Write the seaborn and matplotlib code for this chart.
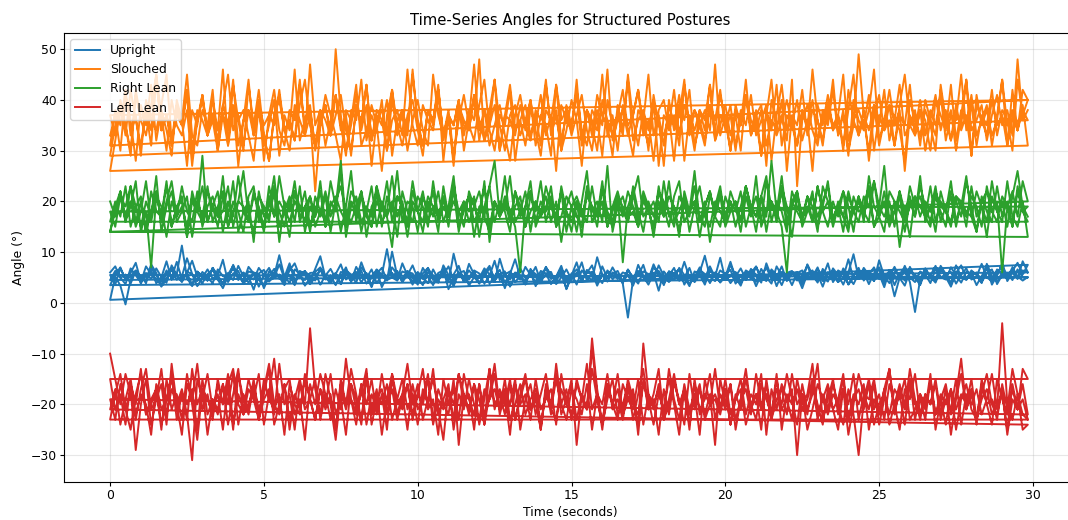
import numpy as np
import pandas as pd
import matplotlib
matplotlib.use("Agg")
import matplotlib.pyplot as plt
import seaborn as sns

postures = ["Upright", "Slouched", "Right Lean", "Left Lean"]
colors = ["#1f77b4", "#ff7f0e", "#2ca02c", "#d62728"]
sample_rate = 6  # samples per second

upright_t1 = [6.0, 7.2, 4.9, 5.6, 3.8, 6.3, 5.1, 4.4, 7.6, 5.9, 3.2, 4.8, 6.7, 5.5, 4.1, 6.0, 8.3, 5.2, 3.9, 5.7,
              6.5, 4.6, 2.9, 5.3, 6.8, 5.0, 4.2, 7.1, 5.8, 4.5, 3.6, 6.2, 5.4, 9.4, 5.1, 4.0, 6.6, 5.7, 3.4, 4.9,
              6.1, 7.0, 5.2, 4.3, 5.9, 3.7, 6.4, 5.6, 4.7, 8.0, 5.3, 3.1, 5.8, 6.9, 4.5, 5.0, 6.3, 4.1, 5.5, 7.4,
              4.8, 3.5, 6.0, 5.4, 4.6, 6.7, 2.7, 5.1, 5.9, 4.3, 7.7, 5.6, 4.9, 6.2, 3.8, 5.3, 6.5, 4.0, 5.7, 8.6,
              5.0, 4.4, 6.1, 3.3, 5.5, 6.8, 4.7, 5.2, 7.3, 4.1, 5.8, 3.6, 6.4, 5.1, 4.5, 9.0, 5.6, 4.2, 6.0, 5.3,
              3.9, 6.6, 4.8, 5.4, 7.5, 4.3, 5.9, 2.4, 6.2, 5.0, 4.6, 6.9, 5.5, 3.7, 5.1, 7.0, 4.4, 6.3, 5.7, 4.0,
              5.2, 8.1, 4.9, 3.4, 6.1, 5.6, 4.2, 6.7, 5.0, 3.8, 7.2, 5.4, 4.7, 6.0, 5.3, 2.9, 5.8, 6.4, 4.5, 5.1,
              7.8, 4.1, 5.7, 6.2, 3.6, 5.0, 4.8, 6.9, 5.5, 4.3, 8.4, 5.2, 3.9, 6.1, 5.6, 4.4, 7.1, 5.0, 3.5, 6.3,
              5.4, 4.6, 6.8, 5.1, 3.2, 5.9, 7.4, 4.7, 5.3, 6.0, 4.1, 5.8, 6.6, 3.7, 5.5, 4.9, 7.0, 5.2, 4.4, 5.1]
upright_t2 = [5.5, 3.6, 6.8, 4.7, 5.9, 7.9, 4.2, 5.3, 6.4, 3.9, 5.0, 8.2, 4.6, 5.7, 11.3, 4.9, 3.3, 6.1, 5.4, 4.4,
              6.9, 5.1, 3.8, 5.6, 7.3, 4.5, 6.0, 5.2, 2.6, 5.8, 6.5, 4.3, 5.0, 7.6, 4.8, 5.5, 3.5, 6.3, 5.7, 4.1,
              6.7, 9.2, 5.0, 4.6, 5.9, 3.7, 6.2, 5.3, 4.0, 7.0, 5.6, 4.8, 6.4, 3.1, 5.2, 5.9, 4.5, 7.8, 5.4, 4.2,
              6.1, 5.0, 3.9, 6.6, 4.7, 5.5, 7.2, 4.4, 5.8, 6.3, 3.4, 5.1, 4.9, 6.8, 5.6, 4.1, 8.7, 5.3, 4.6, 6.0,
              5.2, 3.6, 6.4, 5.7, 4.3, 7.1, 5.0, 4.8, 6.2, 2.8, 5.5, 6.6, 4.5, 5.9, 7.4, 4.0, 5.3, 6.1, 4.7, 5.6,
              3.8, -2.9, 4.6, 6.3, 5.1, 4.4, 7.0, 5.8, 3.5, 6.2, 5.4, 4.9, 8.1, 5.0, 4.2, 6.5, 5.7, 3.9, 6.0, 5.2,
              4.6, 7.5, 5.3, 4.1, 6.4, 5.8, 3.3, 5.6, 6.9, 4.8, 5.1, 7.2, 4.3, 5.9, 6.1, 3.7, 5.4, 4.7, 6.6, 5.0,
              4.2, 6.8, 5.5, 3.6, 6.0, 9.6, 4.9, 5.2, 6.3, 4.4, 5.7, 3.1, 6.5, 5.3, 4.8, 7.3, 5.0, 4.1, 6.2, 5.6,
              3.9, 6.7, 5.1, 4.6, 7.0, 5.4, 4.0, 6.1, 5.8, 3.5, 5.3, 6.9, 4.7, 5.6, 7.6, 4.3, 5.9, 5.0, 6.4, 6.0]
upright_t3 = [4.5, 6.3, 5.0, 3.7, 6.8, 5.4, 4.1, 7.2, 5.6, 4.8, 3.4, 5.9, 6.5, 4.6, 5.2, 8.8, 5.7, 4.3, 6.1, 5.0,
              3.9, 6.6, 5.3, 4.7, 7.5, 5.1, 4.4, 6.2, 5.8, 3.2, 5.5, 6.9, 4.9, 5.6, 4.0, 6.4, 7.8, 5.2, 4.5, 5.9,
              6.0, 3.6, 5.4, 6.7, 4.8, 5.1, 7.0, 4.2, 5.7, 6.3, 3.8, 5.0, 6.6, 5.5, 4.4, 10.1, 5.3, 4.6, 6.1, 5.8,
              4.1, 6.9, 5.2, 3.5, 5.9, 6.4, 4.7, 5.6, 7.3, 4.3, 5.0, 6.2, 3.9, 5.4, 6.8, 4.9, 5.7, 2.9, 6.0, 5.3,
              4.6, 7.1, 5.5, 4.2, 6.3, 5.8, 3.7, 5.1, 6.7, 4.8, 5.4, 8.0, 4.5, 5.9, 6.1, 3.4, 5.6, 4.9, 7.0, 5.2,
              4.4, 6.5, 5.0, 3.8, 6.2, 5.7, 4.6, 7.4, 5.3, 4.1, 5.8, 6.6, 3.6, 5.5, 4.8, 6.0, 9.3, 5.1, 4.3, 6.4,
              5.6, 3.9, 5.2, 6.8, 4.7, 5.9, 7.2, 4.5, 5.0, 6.3, 3.3, 5.7, 4.9, 6.1, 5.4, 4.2, 7.6, 5.5, 4.0, 6.7,
              5.1, 4.6, 6.4, 5.8, 3.7, 5.3, 6.9, 4.4, 5.6, 7.0, 4.8, 5.2, 6.2, 3.5, 5.9, 6.5, 4.1, -1.8, 4.7, 6.0,
              5.4, 7.3, 4.9, 5.7, 6.1, 3.8, 5.5, 6.8, 4.6, 5.2, 7.7, 5.0, 4.3, 6.6, 5.8, 4.7, 6.3, 7.9, 5.6, 7.5]
upright_t4 = [0.6, 5.2, 3.4, -0.3, 4.6, 6.1, 5.3, 3.9, 7.0, 5.5, 4.2, 6.4, 5.0, 8.1, 4.7, 5.8, 3.6, 6.2, 5.1, 4.4,
              6.9, 5.4, 3.8, 5.9, 4.5, 7.3, 5.2, 4.0, 6.0, 5.6, 2.9, 5.3, 6.7, 4.8, 5.1, 7.8, 4.3, 5.7, 6.3, 3.7,
              5.0, 6.5, 4.6, 5.4, 3.5, 6.1, 5.8, 4.2, 7.1, 5.3, 4.9, 6.6, 3.9, 5.5, 10.6, 5.0, 4.4, 6.2, 5.7, 3.6,
              5.9, 4.7, 6.8, 5.2, 4.0, 7.4, 5.5, 3.3, 6.0, 5.1, 4.6, 6.4, 5.8, 3.8, 5.3, 8.3, 4.5, 5.6, 6.2, 4.1,
              5.4, 3.7, 6.7, 5.0, 4.8, 7.0, 5.6, 4.3, 6.1, 2.7, 5.2, 5.9, 4.4, 6.5, 5.3, 3.9, 7.2, 4.9, 5.7, 6.3,
              4.2, 5.5, 3.4, 6.0, 5.1, 4.7, 7.6, 5.4, 3.8, 6.2, 5.8, 4.5, 5.0, 6.9, 4.1, 5.6, 3.6, 6.4, 5.2, 8.9,
              4.6, 5.3, 6.1, 3.9, 5.7, 4.8, 7.1, 5.0, 4.3, 6.6, 5.5, 3.5, 5.9, 6.3, 4.4, 5.2, 7.4, 4.7, 5.6, 3.2,
              6.0, 5.4, 4.1, 6.8, 5.1, 3.7, 5.8, 6.5, 4.6, 5.3, 7.0, 4.0, 5.6, 1.3, 5.0, 6.2, 4.8, 5.5, 3.8, 6.7,
              5.2, 4.4, 7.3, 5.7, 3.6, 6.1, 5.0, 4.7, 6.4, 5.5, 3.9, 7.7, 5.3, 4.2, 6.0, 5.8, 4.5, 6.6, 5.1, 5.0]
upright_t5 = [3.5, 5.6, 7.0, 4.5, 5.2, 6.4, 3.8, 5.9, 4.7, 6.8, 5.1, 4.0, 7.4, 5.5, 4.3, 6.1, 5.7, 3.3, 5.0, 6.6,
              4.8, 5.4, 8.5, 4.1, 5.8, 6.3, 3.7, 5.2, 4.6, 6.9, 5.5, 4.2, 6.0, 5.1, 3.5, 7.2, 5.6, 4.9, 6.2, 5.3,
              4.4, 6.7, 5.0, 3.9, 5.7, 7.6, 4.6, 5.4, 6.1, 4.0, 5.9, 3.4, 6.5, 5.2, 4.8, 7.0, 5.6, 4.3, 6.3, 5.0,
              3.6, 5.8, 6.9, 4.5, 5.3, 6.0, 4.1, 9.7, 5.5, 4.7, 6.4, 5.1, 3.8, 5.9, 7.3, 4.4, 5.6, 6.2, 3.2, 5.4,
              6.8, 4.9, 5.2, 7.1, 4.2, 5.7, 6.1, 3.7, 5.0, 6.6, 4.6, 5.5, 8.0, 4.3, 5.8, 5.1, 3.9, 6.4, 5.3, 4.8,
              6.0, 5.6, 4.1, 7.5, 5.2, 3.6, 5.9, 6.3, 4.7, 5.4, 6.9, 4.4, 5.1, 3.3, 6.2, 5.7, 4.9, 7.2, 5.0, 4.2,
              5.8, 6.5, 3.8, 5.3, 4.6, 6.7, 5.5, 4.0, 7.8, 5.1, 4.5, 6.1, 5.6, 3.5, 5.9, 6.4, 4.8, 5.2, 7.0, 4.3,
              5.7, 6.3, 4.1, 5.0, 8.6, 4.7, 5.4, 6.0, 3.7, 5.8, 6.6, 4.4, 5.3, 7.1, 4.9, 3.4, 6.2, 5.5, 4.6, 6.8,
              5.1, 4.0, 6.5, 5.7, 3.9, 7.4, 5.2, 4.5, 6.1, 5.6, 4.8, 6.9, 3.6, 5.4, 7.7, 5.0, 6.3, 4.7, 8.2, 6.0]

slouched_t1 = [33, 37, 30, 41, 36, 28, 39, 35, 43, 32, 38, 34, 29, 40, 36, 45, 33, 31, 38, 35,
               42, 30, 37, 34, 39, 27, 36, 44, 33, 38, 31, 35, 40, 29, 37, 34, 46, 32, 36, 39,
               30, 35, 41, 37, 33, 28, 38, 36, 43, 31, 34, 39, 35, 26, 37, 42, 33, 38, 30, 36,
               40, 34, 31, 45, 37, 33, 38, 29, 36, 41, 35, 32, 39, 44, 34, 30, 37, 35, 42, 28,
               36, 39, 33, 37, 31, 43, 35, 38, 30, 34, 40, 36, 27, 38, 33, 41, 37, 35, 29, 39,
               34, 44, 32, 36, 38, 30, 41, 35, 33, 37, 28, 39, 36, 42, 31, 35, 38, 34, 47, 33,
               37, 30, 39, 35, 41, 33, 36, 29, 38, 34, 43, 31, 37, 35, 40, 32, 36, 26, 39, 35,
               41, 34, 37, 31, 38, 45, 33, 36, 30, 39, 35, 42, 32, 37, 34, 28, 40, 36, 33, 38,
               35, 30, 43, 36, 32, 39, 34, 37, 29, 41, 35, 38, 33, 36, 44, 31, 37, 34, 39, 31]
slouched_t2 = [26, 32, 38, 35, 30, 41, 36, 33, 39, 45, 34, 37, 31, 38, 35, 42, 29, 36, 40, 33,
               37, 34, 46, 31, 38, 36, 30, 43, 35, 39, 33, 28, 37, 41, 34, 36, 32, 39, 44, 35,
               31, 38, 36, 33, 50, 37, 30, 35, 41, 34, 39, 27, 36, 38, 33, 42, 35, 31, 37, 40,
               34, 29, 38, 36, 43, 32, 37, 35, 40, 30, 36, 47, 34, 38, 31, 35, 39, 33, 28, 37,
               41, 35, 32, 38, 36, 44, 33, 37, 30, 39, 35, 42, 34, 31, 38, 36, 29, 40, 35, 37,
               33, 45, 36, 31, 38, 34, 40, 27, 37, 35, 42, 33, 39, 36, 30, 38, 34, 43, 32, 37,
               35, 39, 31, 36, 41, 34, 38, 29, 37, 44, 33, 36, 40, 35, 31, 38, 34, 46, 36, 32,
               39, 35, 37, 30, 42, 36, 33, 38, 28, 37, 41, 34, 36, 31, 39, 45, 35, 33, 38, 36,
               30, 40, 37, 34, 43, 32, 38, 35, 41, 33, 36, 39, 31, 37, 44, 35, 38, 34, 42, 40]
slouched_t3 = [37, 33, 40, 35, 29, 42, 36, 38, 31, 44, 34, 37, 32, 39, 36, 27, 38, 35, 41, 33,
               36, 30, 39, 45, 34, 37, 31, 38, 35, 42, 33, 28, 37, 40, 34, 36, 32, 43, 35, 38,
               31, 36, 39, 33, 41, 35, 29, 38, 36, 44, 32, 37, 34, 40, 30, 36, 38, 33, 46, 35,
               31, 39, 36, 34, 42, 28, 37, 35, 40, 33, 38, 36, 48, 32, 35, 39, 30, 37, 43, 34,
               36, 31, 38, 35, 41, 33, 37, 26, 39, 36, 34, 44, 32, 38, 35, 30, 40, 36, 33, 37,
               42, 34, 29, 38, 36, 45, 33, 37, 31, 39, 35, 41, 28, 37, 34, 38, 36, 43, 32, 35,
               39, 33, 37, 30, 41, 36, 34, 38, 27, 40, 35, 37, 32, 44, 23, 36, 39, 34, 31, 38,
               35, 42, 33, 37, 29, 40, 36, 34, 38, 46, 32, 36, 39, 31, 37, 35, 43, 33, 38, 30,
               36, 41, 34, 38, 32, 37, 35, 44, 29, 39, 36, 33, 40, 35, 37, 31, 42, 34, 38, 36]
slouched_t4 = [29, 35, 39, 33, 42, 36, 31, 38, 34, 45, 37, 30, 40, 35, 33, 38, 27, 36, 41, 34,
               37, 32, 39, 35, 44, 31, 36, 38, 33, 40, 28, 37, 35, 42, 34, 30, 39, 36, 33, 47,
               35, 38, 31, 36, 41, 34, 37, 29, 39, 35, 43, 32, 38, 36, 30, 40, 34, 37, 33, 45,
               36, 31, 38, 35, 42, 33, 37, 28, 39, 36, 34, 41, 32, 38, 35, 44, 30, 37, 36, 33,
               39, 34, 40, 31, 37, 35, 29, 43, 36, 38, 33, 37, 41, 34, 30, 38, 35, 46, 32, 36,
               38, 33, 37, 42, 35, 31, 39, 36, 27, 40, 34, 37, 44, 33, 38, 35, 31, 39, 36, 42,
               34, 37, 30, 38, 35, 41, 33, 36, 39, 28, 37, 43, 34, 36, 31, 38, 35, 40, 32, 37,
               36, 44, 33, 38, 30, 35, 49, 37, 34, 39, 31, 36, 42, 35, 38, 26, 37, 34, 40, 33,
               38, 35, 41, 32, 37, 36, 45, 34, 39, 31, 37, 35, 42, 33, 38, 36, 30, 44, 37, 40]
slouched_t5 = [31, 38, 35, 42, 33, 37, 29, 40, 36, 34, 39, 45, 32, 37, 35, 41, 30, 38, 36, 33,
               40, 34, 37, 31, 43, 36, 38, 33, 28, 39, 35, 37, 42, 34, 31, 38, 36, 44, 33, 37,
               22, 35, 39, 33, 37, 41, 34, 30, 38, 36, 43, 32, 37, 35, 40, 29, 36, 38, 34, 46,
               35, 31, 38, 36, 42, 33, 37, 27, 39, 35, 34, 41, 36, 32, 38, 44, 35, 30, 37, 39,
               33, 36, 40, 34, 29, 38, 36, 43, 32, 37, 35, 41, 31, 38, 36, 34, 45, 33, 37, 30,
               39, 35, 37, 42, 33, 36, 28, 38, 40, 34, 37, 31, 43, 35, 38, 36, 32, 39, 34, 41,
               36, 30, 38, 35, 44, 33, 37, 39, 31, 36, 34, 40, 26, 37, 35, 42, 33, 38, 36, 31,
               39, 34, 37, 45, 32, 36, 38, 35, 41, 30, 37, 34, 39, 36, 43, 33, 35, 38, 31, 40,
               36, 33, 42, 35, 38, 30, 37, 44, 34, 36, 39, 32, 37, 41, 35, 38, 33, 48, 36, 38]

right_t1 = [20, 17, 22, 16, 19, 24, 14, 18, 7, 21, 17, 23, 15, 19, 20, 13, 22, 18, 29, 16,
            19, 15, 21, 17, 24, 14, 18, 20, 12, 22, 17, 19, 25, 15, 18, 21, 16, 23, 14, 19,
            17, 22, 15, 20, 18, 26, 13, 19, 21, 16, 18, 23, 15, 20, 17, 11, 21, 19, 16, 24,
            18, 14, 20, 17, 22, 16, 19, 25, 15, 18, 21, 13, 19, 17, 23, 16, 20, 18, 14, 22,
            17, 19, 24, 15, 18, 21, 16, 20, 12, 19, 22, 17, 15, 23, 18, 20, 16, 27, 14, 19,
            21, 17, 18, 15, 22, 19, 13, 20, 17, 24, 16, 18, 21, 14, 19, 23, 17, 15, 20, 18,
            16, 22, 19, 14, 21, 17, 25, 15, 18, 20, 16, 23, 19, 13, 21, 17, 18, 22, 15, 19,
            24, 16, 20, 17, 14, 21, 18, 19, 23, 15, 17, 22, 16, 20, 11, 18, 21, 17, 25, 16,
            19, 14, 22, 18, 16, 21, 20, 15, 23, 17, 19, 13, 21, 18, 16, 24, 17, 15, 20, 13]
right_t2 = [14, 18, 21, 16, 23, 19, 15, 20, 17, 25, 14, 19, 22, 16, 18, 21, 13, 20, 17, 23,
            16, 19, 22, 15, 18, 20, 26, 17, 14, 21, 19, 16, 23, 18, 15, 20, 22, 17, 19, 14,
            21, 18, 16, 24, 19, 28, 15, 20, 17, 22, 13, 19, 21, 16, 18, 25, 17, 20, 15, 22,
            18, 16, 21, 19, 14, 23, 17, 20, 18, 15, 22, 19, 16, 24, 12, 20, 17, 21, 18, 15,
            6, 19, 22, 16, 20, 18, 23, 15, 17, 21, 19, 14, 20, 26, 16, 18, 22, 17, 15, 21,
            19, 16, 23, 18, 14, 20, 17, 22, 19, 15, 21, 24, 16, 18, 20, 13, 19, 22, 17, 21,
            15, 18, 20, 16, 23, 19, 17, 21, 14, 20, 18, 25, 16, 19, 22, 15, 18, 21, 17, 20,
            23, 16, 19, 14, 21, 18, 20, 17, 22, 15, 19, 27, 16, 18, 21, 14, 20, 17, 23, 19,
            16, 21, 18, 15, 22, 20, 17, 24, 19, 14, 21, 18, 16, 23, 17, 20, 15, 22, 18, 19]
right_t3 = [18, 15, 21, 19, 23, 16, 20, 14, 22, 18, 17, 24, 15, 19, 21, 13, 20, 18, 16, 22,
            19, 17, 25, 15, 20, 18, 14, 21, 23, 16, 19, 17, 22, 12, 20, 18, 24, 16, 19, 21,
            15, 18, 22, 17, 20, 14, 19, 26, 16, 21, 18, 15, 23, 19, 17, 20, 13, 22, 18, 16,
            21, 19, 15, 24, 17, 20, 18, 22, 14, 19, 21, 16, 18, 23, 15, 20, 17, 19, 25, 16,
            18, 22, 14, 20, 17, 19, 21, 15, 23, 18, 16, 20, 13, 22, 19, 17, 24, 15, 18, 21,
            8, 19, 22, 16, 20, 18, 15, 23, 17, 21, 19, 14, 20, 18, 26, 16, 19, 22, 17, 15,
            21, 18, 20, 16, 23, 19, 14, 21, 17, 28, 18, 15, 6, 20, 22, 17, 19, 16, 23, 18,
            15, 20, 17, 22, 19, 14, 21, 18, 16, 24, 19, 17, 20, 15, 22, 18, 13, 21, 19, 17,
            23, 16, 20, 18, 15, 21, 19, 25, 17, 14, 20, 22, 18, 16, 21, 19, 15, 23, 18, 16]
right_t4 = [16, 20, 17, 23, 15, 19, 21, 14, 18, 22, 16, 20, 24, 17, 19, 15, 21, 18, 23, 16,
            19, 22, 14, 20, 17, 25, 18, 16, 21, 19, 15, 23, 17, 20, 18, 13, 22, 19, 16, 21,
            17, 24, 15, 19, 21, 18, 16, 22, 20, 14, 19, 17, 23, 15, 21, 18, 26, 16, 20, 19,
            14, 21, 18, 22, 16, 19, 17, 24, 15, 20, 18, 21, 13, 19, 23, 28, 17, 20, 16, 22,
            19, 15, 21, 18, 24, 16, 20, 17, 22, 14, 19, 21, 18, 16, 23, 17, 20, 15, 19, 22,
            18, 16, 21, 25, 17, 19, 14, 22, 20, 18, 15, 21, 19, 17, 23, 16, 20, 12, 18, 22,
            17, 20, 15, 19, 23, 18, 21, 16, 24, 19, 17, 22, 15, 20, 18, 16, 21, 19, 14, 23,
            20, 17, 19, 22, 15, 18, 21, 16, 25, 19, 17, 14, 22, 20, 18, 16, 23, 19, 21, 17,
            15, 22, 19, 18, 24, 16, 20, 17, 21, 19, 15, 23, 18, 20, 6, 19, 22, 17, 24, 20]
right_t5 = [14, 19, 22, 17, 20, 15, 18, 24, 16, 21, 19, 13, 20, 17, 23, 18, 16, 22, 15, 19,
            21, 17, 18, 23, 15, 20, 19, 16, 22, 18, 14, 21, 17, 25, 19, 16, 20, 18, 22, 15,
            19, 17, 21, 14, 20, 23, 18, 16, 19, 22, 17, 15, 20, 18, 24, 16, 21, 19, 13, 20,
            18, 22, 16, 19, 17, 21, 15, 23, 18, 20, 16, 19, 22, 17, 14, 20, 18, 25, 16, 19,
            21, 15, 18, 20, 17, 23, 19, 16, 22, 18, 14, 20, 17, 21, 19, 15, 23, 18, 16, 20,
            17, 22, 19, 15, 21, 18, 20, 16, 24, 17, 19, 13, 22, 18, 20, 17, 15, 21, 19, 23,
            16, 20, 18, 22, 15, 19, 17, 21, 25, 16, 20, 18, 14, 22, 19, 17, 21, 16, 23, 18,
            20, 15, 19, 17, 22, 18, 16, 21, 19, 24, 17, 20, 15, 18, 22, 16, 19, 21, 17, 20,
            18, 23, 16, 19, 21, 15, 20, 18, 17, 22, 19, 16, 24, 18, 20, 15, 21, 26, 19, 17]

left_t1 = [-10, -15, -20, -14, -18, -23, -17, -13, -21, -19, -16, -24, -12, -20, -17, -22, -31, -15, -19, -14,
           -21, -18, -25, -16, -13, -20, -22, -17, -19, -14, -24, -18, -11, -21, -16, -23, -19, -15, -20, -5,
           -17, -22, -14, -19, -25, -16, -20, -13, -18, -23, -15, -21, -17, -26, -19, -14, -22, -18, -12, -20,
           -16, -23, -19, -15, -21, -27, -17, -20, -14, -18, -22, -16, -24, -19, -13, -21, -17, -20, -15, -23,
           -18, -14, -21, -19, -25, -16, -22, -12, -20, -17, -23, -15, -19, -21, -9, -18, -24, -16, -20, -14,
           -22, -19, -17, -26, -15, -21, -18, -13, -23, -20, -16, -19, -24, -14, -21, -17, -22, -18, -28, -15,
           -20, -16, -23, -19, -13, -21, -18, -25, -15, -22, -17, -20, -14, -19, -24, -16, -21, -18, -12, -23,
           -19, -15, -22, -17, -26, -20, -14, -18, -21, -16, -24, -19, -13, -22, -17, -20, -15, -23, -18, -21,
           -14, -25, -19, -16, -22, -18, -11, -21, -17, -24, -15, -20, -19, -23, -16, -21, -13, -18, -22, -23]
left_t2 = [-23, -18, -14, -21, -17, -29, -20, -15, -24, -19, -13, -22, -17, -20, -26, -16, -19, -12, -21, -18,
           -23, -15, -20, -17, -25, -14, -19, -22, -16, -21, -18, -13, -24, -20, -17, -15, -22, -19, -27, -16,
           -20, -14, -18, -23, -17, -21, -11, -19, -24, -16, -20, -15, -22, -18, -25, -14, -19, -21, -16, -23,
           -18, -13, -21, -19, -26, -15, -20, -17, -23, -14, -19, -22, -16, -24, -18, -12, -21, -17, -20, -15,
           -25, -19, -16, -22, -18, -14, -21, -23, -17, -20, -15, -28, -18, -21, -13, -19, -24, -16, -20, -17,
           -22, -15, -19, -24, -8, -18, -21, -16, -23, -19, -14, -20, -17, -25, -15, -22, -18, -20, -13, -21,
           -17, -24, -19, -15, -22, -18, -20, -14, -26, -17, -21, -16, -19, -23, -15, -20, -18, -12, -22, -19,
           -16, -21, -25, -17, -20, -14, -23, -18, -19, -15, -22, -17, -24, -20, -16, -21, -13, -19, -23, -18,
           -20, -15, -22, -17, -26, -19, -14, -21, -18, -23, -16, -20, -24, -15, -19, -22, -17, -21, -13, -15]
left_t3 = [-15, -21, -18, -24, -16, -20, -13, -22, -19, -17, -25, -15, -21, -18, -23, -14, -20, -27, -17, -19,
           -22, -16, -20, -14, -24, -18, -21, -15, -19, -23, -17, -12, -20, -22, -16, -25, -18, -21, -15, -19,
           -23, -17, -20, -14, -22, -19, -26, -16, -21, -18, -13, -24, -19, -17, -22, -15, -20, -18, -25, -16,
           -21, -19, -14, -23, -17, -20, -22, -15, -28, -18, -21, -16, -19, -24, -13, -20, -18, -22, -16, -23,
           -19, -15, -21, -18, -25, -17, -20, -14, -22, -19, -16, -23, -18, -21, -7, -17, -24, -19, -15, -22,
           -20, -16, -23, -18, -13, -21, -19, -26, -17, -22, -15, -20, -18, -24, -16, -21, -19, -14, -23, -18,
           -21, -16, -25, -19, -17, -22, -14, -20, -18, -23, -15, -21, -19, -17, -30, -18, -22, -16, -20, -24,
           -17, -21, -19, -14, -23, -18, -20, -16, -25, -19, -22, -17, -13, -21, -18, -24, -16, -20, -19, -23,
           -15, -22, -18, -20, -17, -25, -19, -16, -21, -23, -18, -14, -20, -22, -17, -26, -19, -21, -16, -22]
left_t4 = [-19, -23, -16, -21, -25, -18, -14, -22, -20, -17, -24, -19, -15, -21, -18, -23, -13, -20, -17, -26,
           -19, -22, -16, -20, -14, -24, -18, -21, -15, -23, -19, -17, -22, -12, -20, -18, -25, -16, -21, -19,
           -15, -23, -18, -20, -27, -17, -21, -16, -19, -24, -14, -22, -18, -20, -16, -23, -19, -15, -21, -18,
           -24, -17, -20, -13, -22, -19, -16, -25, -18, -21, -15, -20, -23, -17, -19, -14, -22, -18, -26, -16,
           -20, -18, -23, -15, -21, -19, -17, -24, -14, -20, -22, -16, -19, -12, -21, -18, -25, -17, -20, -23,
           -16, -19, -21, -15, -24, -18, -20, -17, -22, -13, -19, -23, -16, -21, -18, -26, -15, -20, -19, -22,
           -17, -24, -18, -21, -15, -20, -23, -16, -19, -22, -14, -25, -18, -20, -17, -21, -19, -15, -23, -18,
           -21, -16, -20, -24, -17, -22, -30, -19, -15, -21, -18, -23, -16, -20, -25, -17, -19, -14, -22, -18,
           -20, -16, -23, -19, -21, -15, -24, -18, -20, -17, -22, -19, -14, -21, -4, -20, -23, -18, -25, -24]
left_t5 = [-21, -17, -24, -19, -15, -22, -18, -20, -26, -16, -21, -19, -14, -23, -18, -20, -17, -25, -15, -22,
           -19, -21, -16, -24, -18, -13, -22, -20, -17, -23, -15, -19, -21, -18, -26, -16, -20, -22, -14, -19,
           -23, -17, -21, -18, -25, -15, -20, -19, -22, -16, -24, -18, -21, -14, -20, -17, -23, -19, -16, -22,
           -18, -20, -15, -24, -19, -21, -17, -23, -14, -20, -18, -25, -16, -22, -19, -17, -21, -15, -23, -20,
           -16, -22, -19, -17, -24, -18, -21, -15, -20, -23, -17, -19, -22, -16, -25, -18, -20, -14, -21, -19,
           -23, -17, -20, -22, -16, -19, -24, -18, -21, -15, -20, -26, -17, -22, -19, -16, -23, -20, -18, -21,
           -15, -22, -19, -17, -24, -20, -18, -21, -16, -23, -19, -17, -22, -14, -20, -18, -25, -21, -16, -19,
           -22, -18, -20, -15, -23, -19, -17, -21, -16, -24, -20, -18, -22, -17, -19, -15, -23, -21, -18, -20,
           -16, -22, -19, -24, -17, -21, -18, -20, -15, -23, -19, -17, -22, -20, -18, -25, -16, -21, -19, -23]

trials = {
    "Upright": [upright_t1, upright_t2, upright_t3, upright_t4, upright_t5],
    "Slouched": [slouched_t1, slouched_t2, slouched_t3, slouched_t4, slouched_t5],
    "Right Lean": [right_t1, right_t2, right_t3, right_t4, right_t5],
    "Left Lean": [left_t1, left_t2, left_t3, left_t4, left_t5],
}

records = []
for posture in postures:
    for trial in trials[posture]:
        for i, v in enumerate(trial):
            records.append({"Time": i / sample_rate, "Angle": v, "Posture": posture})
df = pd.DataFrame(records)

plt.rcParams["font.size"] = 8.9
plt.rcParams["xtick.major.size"] = 2.6
plt.rcParams["ytick.major.size"] = 2.6
plt.rcParams["xtick.major.pad"] = 2.6
plt.rcParams["ytick.major.pad"] = 2.6

fig = plt.figure(figsize=(10.68, 5.2), dpi=100)
ax = fig.add_axes([0.0599, 0.0731, 0.9476, 0.8635])

sns.lineplot(data=df, x="Time", y="Angle", hue="Posture", hue_order=postures,
             palette=colors, sort=False, estimator=None, linewidth=1.4, ax=ax)

ax.set_xlim(-1.5, 31.4)
ax.set_ylim(-35.3, 53.2)
ax.set_xticks([0, 5, 10, 15, 20, 25, 30])
ax.set_yticks([-30, -20, -10, 0, 10, 20, 30, 40, 50])
ax.grid(True, alpha=0.3)
ax.set_title("Time-Series Angles for Structured Postures", fontsize=10.7)
ax.set_xlabel("Time (seconds)", fontsize=8.9, labelpad=3.0)
ax.set_ylabel("Angle (°)", fontsize=8.9)
sns.move_legend(ax, "upper left", title=None, fontsize=8.9)

fig.savefig("out.png", dpi=100)
